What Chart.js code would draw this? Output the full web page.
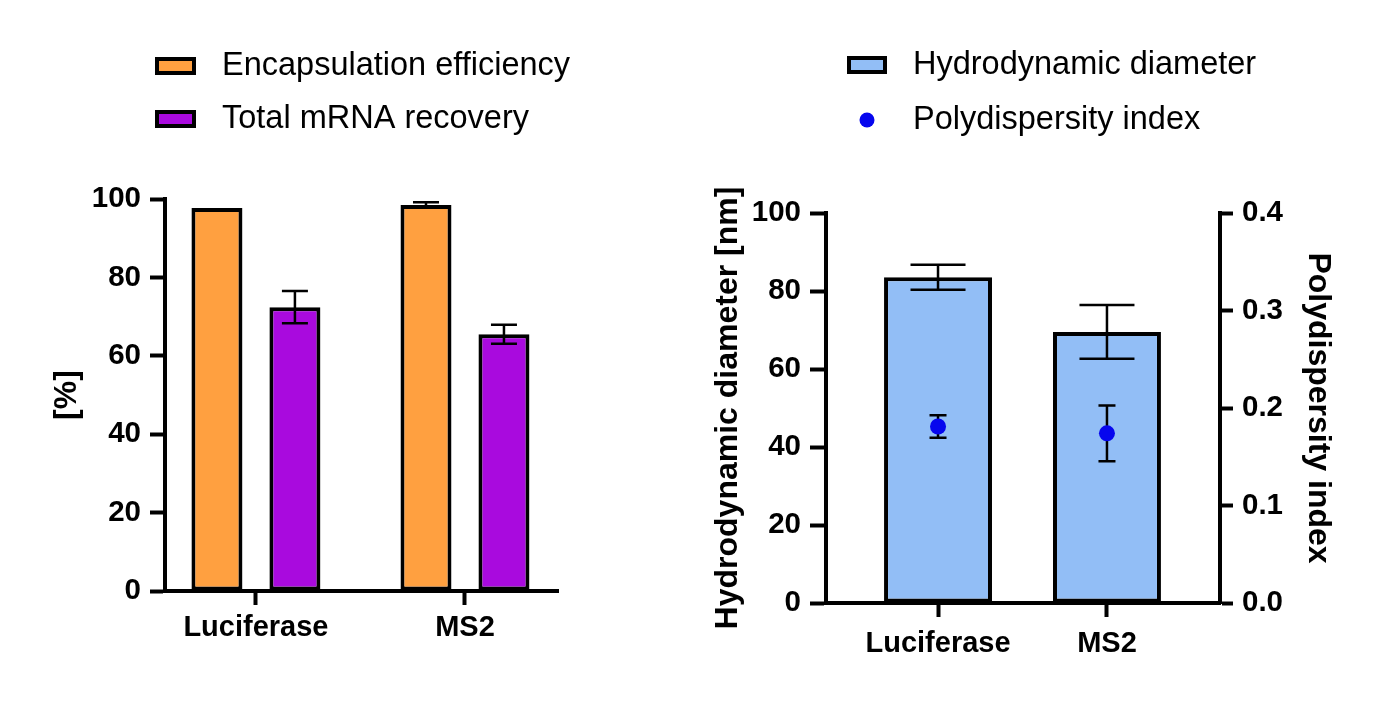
<!DOCTYPE html>
<html><head><meta charset="utf-8">
<script src="https://cdn.jsdelivr.net/npm/chart.js@4.4.0/dist/chart.umd.min.js"></script>
<style>
html,body{margin:0;padding:0;background:#fff;}
#wrap{position:relative;width:1386px;height:701px;overflow:hidden;}
.panel{position:absolute;top:0;width:693px;height:701px;}
</style></head><body>
<div id="wrap">
<div class="panel" style="left:0"><canvas id="c1"></canvas></div>
<div class="panel" style="left:693px"><canvas id="c2"></canvas></div>
</div>
<script>
// ---- data ----
const categories = ['Luciferase', 'MS2'];
const encapsulationEfficiency = [97.7, 98.5];
const encapsulationEfficiencyErr = [0, 0.7];
const totalRecovery = [72.4, 65.5];
const totalRecoveryErr = [4.1, 2.4];
const hydroDiameter = [83.5, 69.5];
const hydroDiameterErr = [3.2, 6.9];
const pdi = [0.181, 0.174];
const pdiErr = [0.0115, 0.0285];
const percentTicks = [0, 20, 40, 60, 80, 100];
const diameterTicks = [0, 20, 40, 60, 80, 100];
const pdiTicks = [0, 0.1, 0.2, 0.3, 0.4];

const FONT = '"Liberation Sans", Arial, Helvetica, sans-serif';
Chart.defaults.font.family = FONT;
Chart.defaults.color = '#000';

const pts = arr => arr.map((v, i) => ({x: i, y: v}));

function drawErrors(chart, meta, ds) {
  if (!ds.errors) return;
  const ys = chart.scales[meta.yAxisID];
  const ctx = chart.ctx;
  ctx.save();
  ctx.strokeStyle = '#000';
  ctx.lineWidth = 2.5;
  ctx.lineCap = 'butt';
  meta.data.forEach((el, i) => {
    const e = ds.errors[i];
    if (!e) return;
    const v = ds.data[i].y;
    const x = el.x;
    const yT = ys.getPixelForValue(v + e), yB = ys.getPixelForValue(v - e);
    const hw = ds.capWidth / 2;
    ctx.beginPath();
    ctx.moveTo(x, yT); ctx.lineTo(x, yB);
    ctx.moveTo(x - hw, yT); ctx.lineTo(x + hw, yT);
    ctx.moveTo(x - hw, yB); ctx.lineTo(x + hw, yB);
    ctx.stroke();
  });
  ctx.restore();
}
const errorBars = {
  id: 'errorBars',
  beforeDatasetDraw(chart, args) {
    const ds = chart.data.datasets[args.index];
    if (ds.type === 'line') drawErrors(chart, args.meta, ds);
  },
  afterDatasetDraw(chart, args) {
    const ds = chart.data.datasets[args.index];
    if (ds.type !== 'line') drawErrors(chart, args.meta, ds);
  }
};
const boxLegend = {
  id: 'boxLegend',
  afterDraw(chart, args, o) {
    if (!o || !o.rows) return;
    const ctx = chart.ctx;
    ctx.save();
    ctx.font = '32.5px ' + FONT;
    ctx.textBaseline = 'middle';
    chart.data.datasets.forEach((ds, i) => {
      const y = o.rows[i];
      if (ds.type === 'line') {
        ctx.beginPath();
        ctx.arc(o.x + o.boxW / 2, y, 7.5, 0, Math.PI * 2);
        ctx.fillStyle = ds.pointBackgroundColor;
        ctx.fill();
      } else {
        ctx.fillStyle = ds.backgroundColor;
        ctx.fillRect(o.x + 2, y - o.boxH / 2 + 2, o.boxW - 4, o.boxH - 4);
        ctx.lineWidth = 4;
        ctx.strokeStyle = '#000';
        ctx.strokeRect(o.x + 2, y - o.boxH / 2 + 2, o.boxW - 4, o.boxH - 4);
      }
      ctx.fillStyle = '#000';
      ctx.fillText(ds.label, o.textX, y);
    });
    ctx.restore();
  }
};

const tickFont = {size: 29.5, weight: 'bold'};
const catFont = {size: 29, weight: 'bold'};
const titleFont = {size: 32, weight: 'bold'};
const axisGrid = len => ({drawOnChartArea: false, drawTicks: true, tickLength: len, tickWidth: 4, tickColor: '#000', offset: false});
const axisBorder = {display: true, color: '#000', width: 4};

function xAxis(min, max, h, pad) {
  return {
    type: 'linear', min: min, max: max, offset: false,
    afterBuildTicks: s => { s.ticks = categories.map((c, i) => ({value: i})); },
    ticks: {callback: (v, i) => categories[i], font: catFont, color: '#000', padding: pad, maxRotation: 0, autoSkip: false},
    grid: axisGrid(14), border: axisBorder,
    afterFit: s => { s.height = h; }
  };
}

// ---- left panel ----
new Chart(document.getElementById('c1'), {
  type: 'bar',
  data: {
    datasets: [
      {label: 'Encapsulation efficiency', data: pts(encapsulationEfficiency), errors: encapsulationEfficiencyErr, capWidth: 26,
       backgroundColor: '#FFA040', borderColor: '#000', borderWidth: 4, borderSkipped: false,
       categoryPercentage: 0.746, barPercentage: 0.654},
      {label: 'Total mRNA recovery', data: pts(totalRecovery), errors: totalRecoveryErr, capWidth: 26,
       backgroundColor: '#A90ADE', borderColor: '#000', borderWidth: 4, borderSkipped: false,
       categoryPercentage: 0.746, barPercentage: 0.654}
    ]
  },
  options: {
    responsive: true, maintainAspectRatio: false, animation: false,
    layout: {padding: {left: 48, top: 199, right: 135, bottom: 0}},
    plugins: {legend: {display: false}, tooltip: {enabled: false},
      boxLegend: {x: 155, boxW: 41, boxH: 18, textX: 222, rows: [66, 119]}},
    scales: {
      x: xAxis(-0.435, 1.445, 110, 6),
      y: {
        min: 0, max: 100,
        afterBuildTicks: s => { s.ticks = percentTicks.map(v => ({value: v})); },
        ticks: {font: tickFont, color: '#000', padding: 9},
        grid: axisGrid(15), border: axisBorder,
        title: {display: true, text: '[%]', font: titleFont, color: '#000', padding: 0},
        afterFit: s => { s.width = 117; }
      }
    }
  },
  plugins: [errorBars, boxLegend]
});

// ---- right panel ----
new Chart(document.getElementById('c2'), {
  type: 'bar',
  data: {
    datasets: [
      {label: 'Hydrodynamic diameter', data: pts(hydroDiameter), errors: hydroDiameterErr, capWidth: 55,
       backgroundColor: '#92BEF6', borderColor: '#000', borderWidth: 4, borderSkipped: false,
       categoryPercentage: 1, barPercentage: 0.639, yAxisID: 'y', order: 2},
      {type: 'line', label: 'Polydispersity index', data: pts(pdi), errors: pdiErr, capWidth: 17,
       showLine: false, pointRadius: 8, pointBorderWidth: 0, pointBackgroundColor: '#0606EE',
       borderColor: '#0606EE', yAxisID: 'y2', order: 1}
    ]
  },
  options: {
    responsive: true, maintainAspectRatio: false, animation: false,
    layout: {padding: {left: 16, top: 213, right: 49, bottom: 0}},
    plugins: {legend: {display: false}, tooltip: {enabled: false},
      boxLegend: {x: 154, boxW: 40, boxH: 18, textX: 220, rows: [65, 120]}},
    scales: {
      x: xAxis(-0.663, 1.669, 98, 10),
      y: {
        position: 'left', min: 0, max: 100,
        afterBuildTicks: s => { s.ticks = diameterTicks.map(v => ({value: v})); },
        ticks: {font: tickFont, color: '#000', padding: 9},
        grid: axisGrid(16), border: axisBorder,
        title: {display: true, text: 'Hydrodynamic diameter [nm]', font: titleFont, color: '#000', padding: 0},
        afterFit: s => { s.width = 117; }
      },
      y2: {
        position: 'right', min: 0, max: 0.4,
        afterBuildTicks: s => { s.ticks = pdiTicks.map(v => ({value: v})); },
        ticks: {font: tickFont, color: '#000', padding: 9, callback: v => Number(v).toFixed(1)},
        grid: axisGrid(13), border: axisBorder,
        title: {display: true, text: 'Polydispersity index', font: titleFont, color: '#000', padding: 0},
        afterFit: s => { s.width = 117; }
      }
    }
  },
  plugins: [errorBars, boxLegend]
});
</script>
</body></html>
